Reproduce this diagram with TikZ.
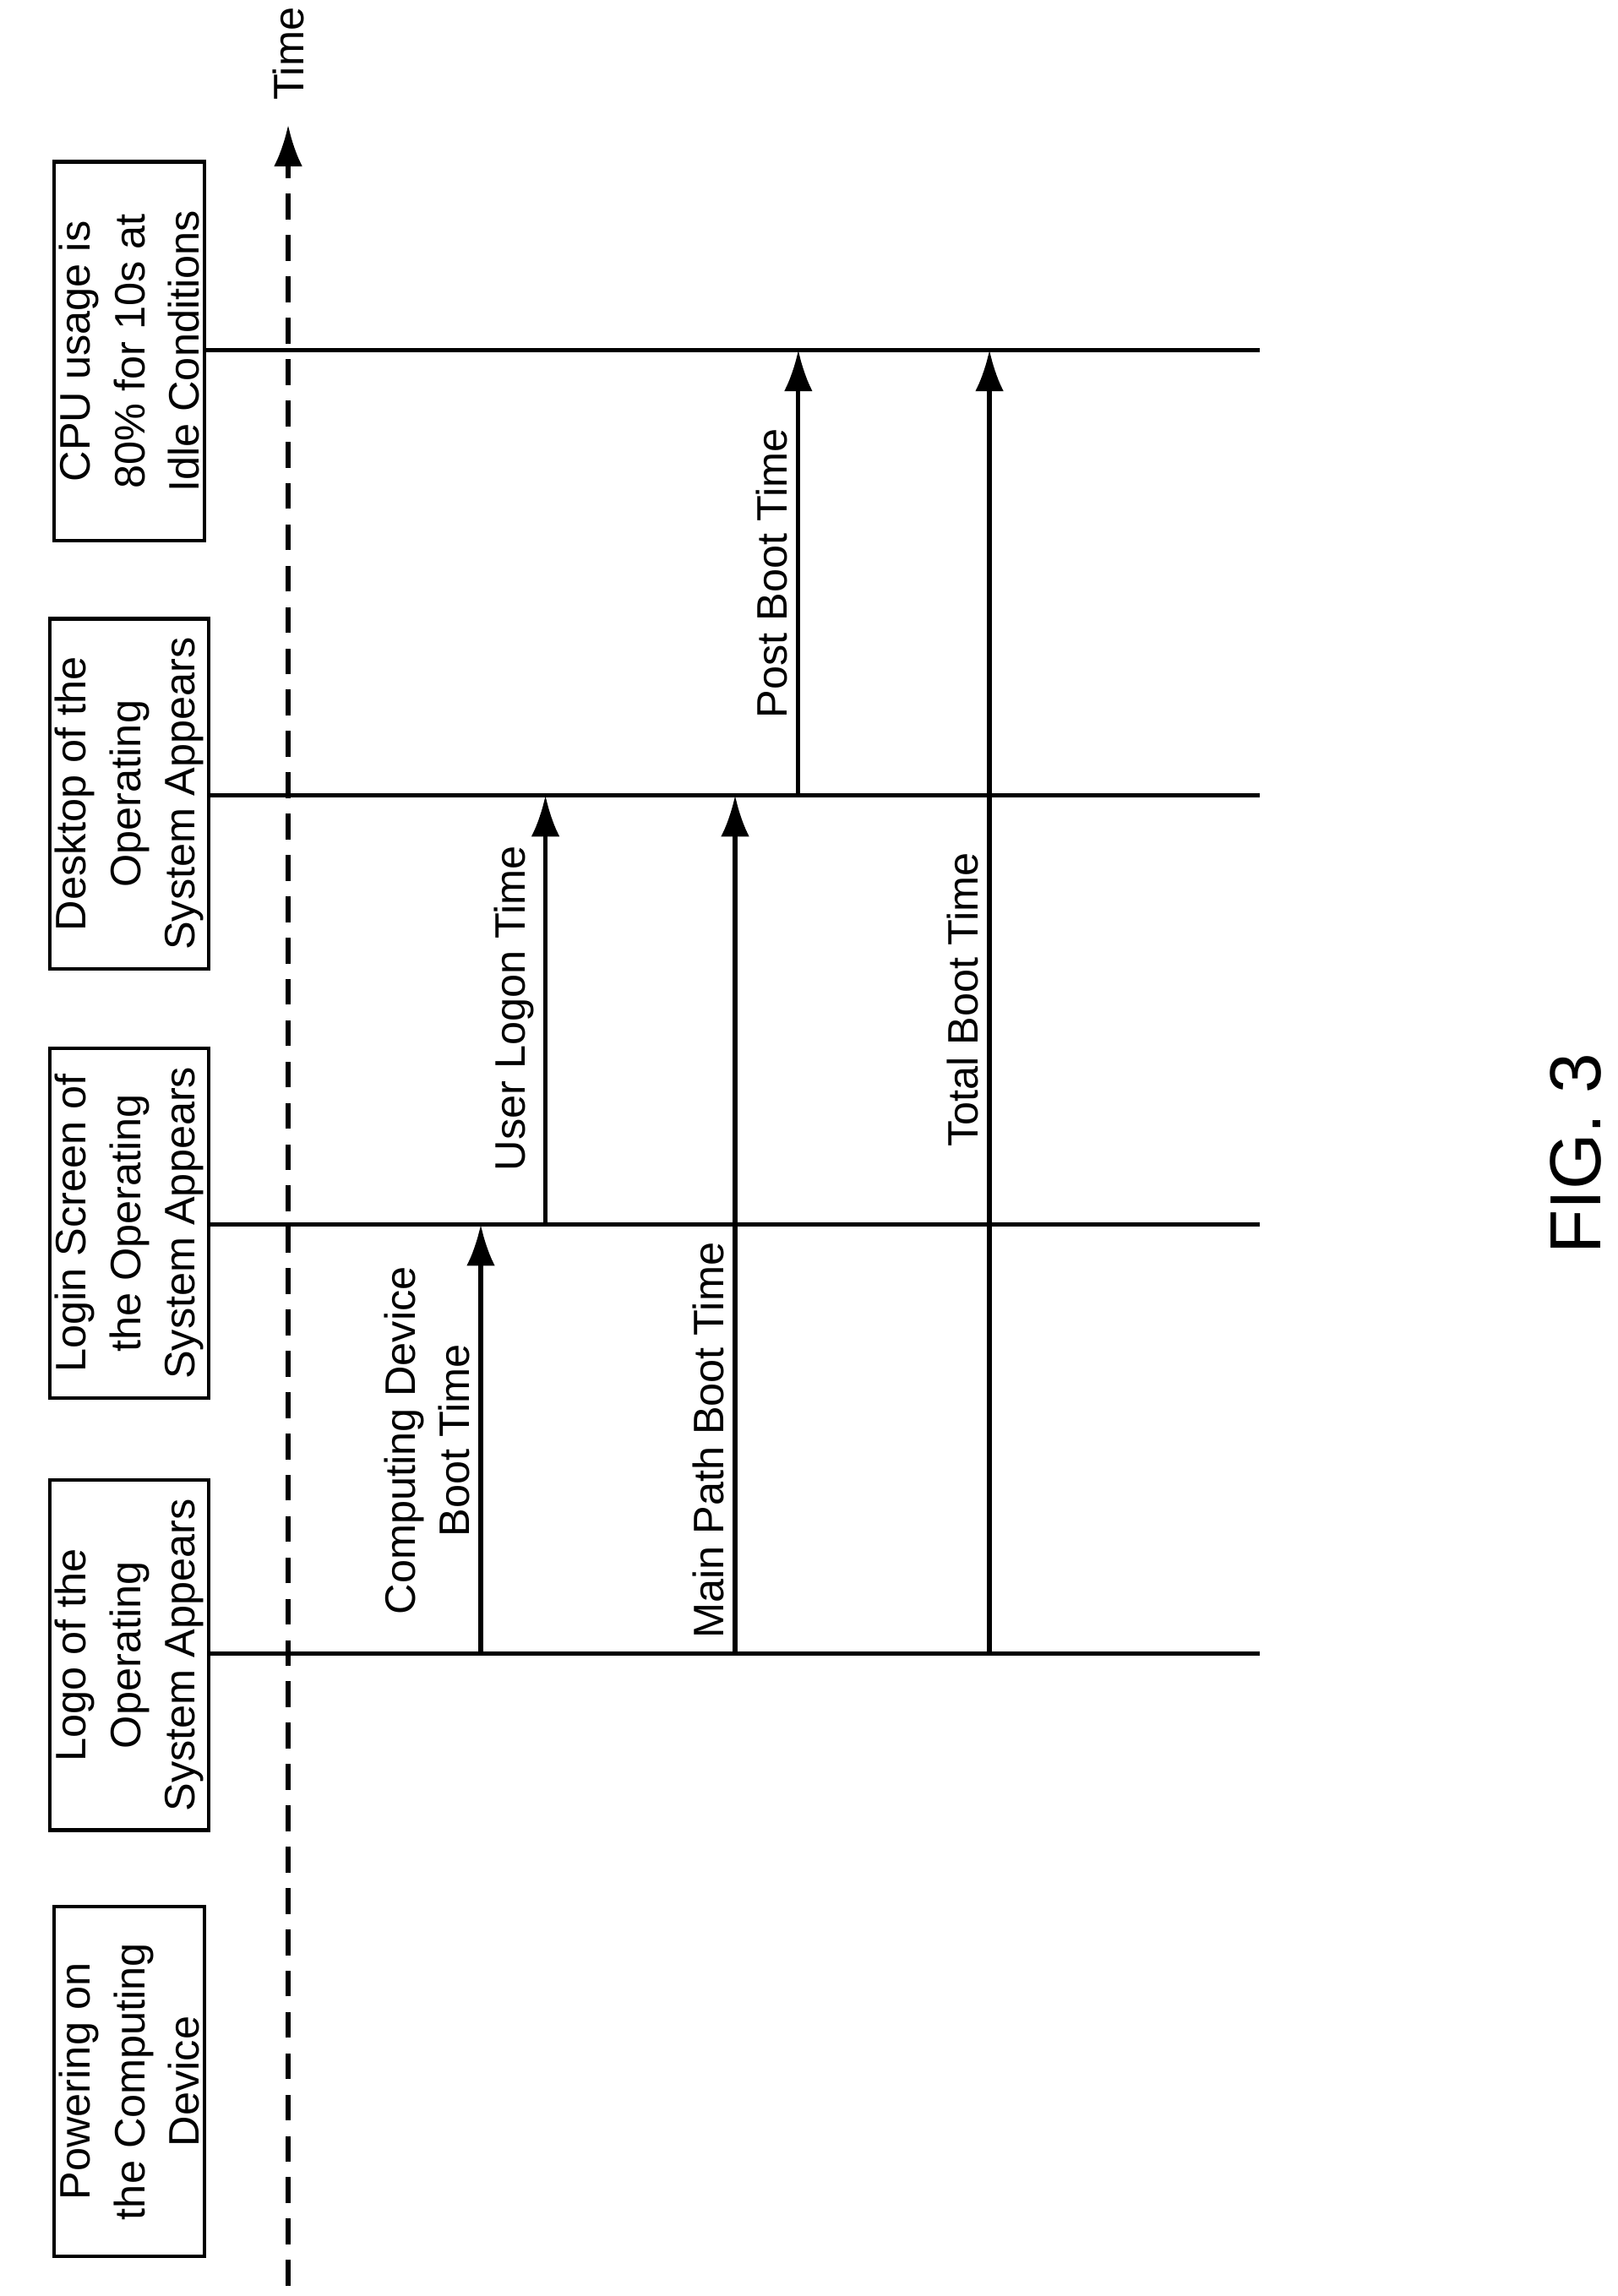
\documentclass[tikz,border=0pt]{standalone}
\usepackage{fontspec}
\setmainfont{Liberation Sans}
\usetikzlibrary{arrows.meta}
\begin{document}
\begin{tikzpicture}[x=0.02cm,y=-0.02cm,
 box/.style={draw,line width=1.4pt,rotate=90,minimum width=4.76cm,minimum height=1.84cm,align=center,font=\fontsize{16.5}{21}\selectfont,inner sep=2pt},
 lab/.style={rotate=90,align=center,font=\fontsize{16.5}{21}\selectfont,inner sep=3pt},
 tl/.style={line width=1.7pt},
 ar/.style={line width=1.7pt,-{Latex[length=16pt,width=11pt]}}]
\useasboundingbox (0,0) rectangle (1100,1562);
\node[box] (p) at (88,1416) {Powering on\\the Computing\\Device};
\node[box] (lo) at (88,1126) {Logo of the\\Operating\\System Appears};
\node[box] (li) at (88,832) {Login Screen of\\the Operating\\System Appears};
\node[box] (de) at (88,540) {Desktop of the\\Operating\\System Appears};
\node[box,minimum width=5.16cm] (cp) at (88,239) {CPU usage is\\80\% for 10s at\\Idle Conditions};
\coordinate (t0) at (196,1555); \coordinate (t1) at (196,85);
\draw[line width=1.7pt,dashed,dash pattern=on 10pt off 6pt,-{Latex[length=16pt,width=11pt]}] (t0) -- (t1);
\node[lab,anchor=west] (tm) at (196,74) {Time};
\foreach \n/\y in {lo/1125,li/833,de/541,cp/238}{
 \coordinate (\n e) at (857,\y);
 \draw[tl] (\n.south |- 0,\y) -- (\n e);
}
\coordinate (a1) at (327,1125); \coordinate (a1e) at (327,833);
\coordinate (a2) at (371,833); \coordinate (a2e) at (371,541);
\coordinate (a3) at (500,1125); \coordinate (a3e) at (500,541);
\coordinate (a4) at (543,541); \coordinate (a4e) at (543,238);
\coordinate (a5) at (673,1125); \coordinate (a5e) at (673,238);
\foreach \a in {a1,a2,a3,a4,a5} \draw[ar] (\a) -- (\a e);
\node[lab,anchor=south] (l1) at (325,980) {Computing Device\\Boot Time};
\node[lab,anchor=south] (l2) at (369,686) {User Logon Time};
\node[lab,anchor=south] (l3) at (498,980) {Main Path Boot Time};
\node[lab,anchor=south] (l4) at (541,390) {Post Boot Time};
\node[lab,anchor=south] (l5) at (671,680) {Total Boot Time};
\node[rotate=90,font=\fontsize{28}{34}\selectfont] (fig) at (1072,785) {FIG. 3};
\end{tikzpicture}
\end{document}
